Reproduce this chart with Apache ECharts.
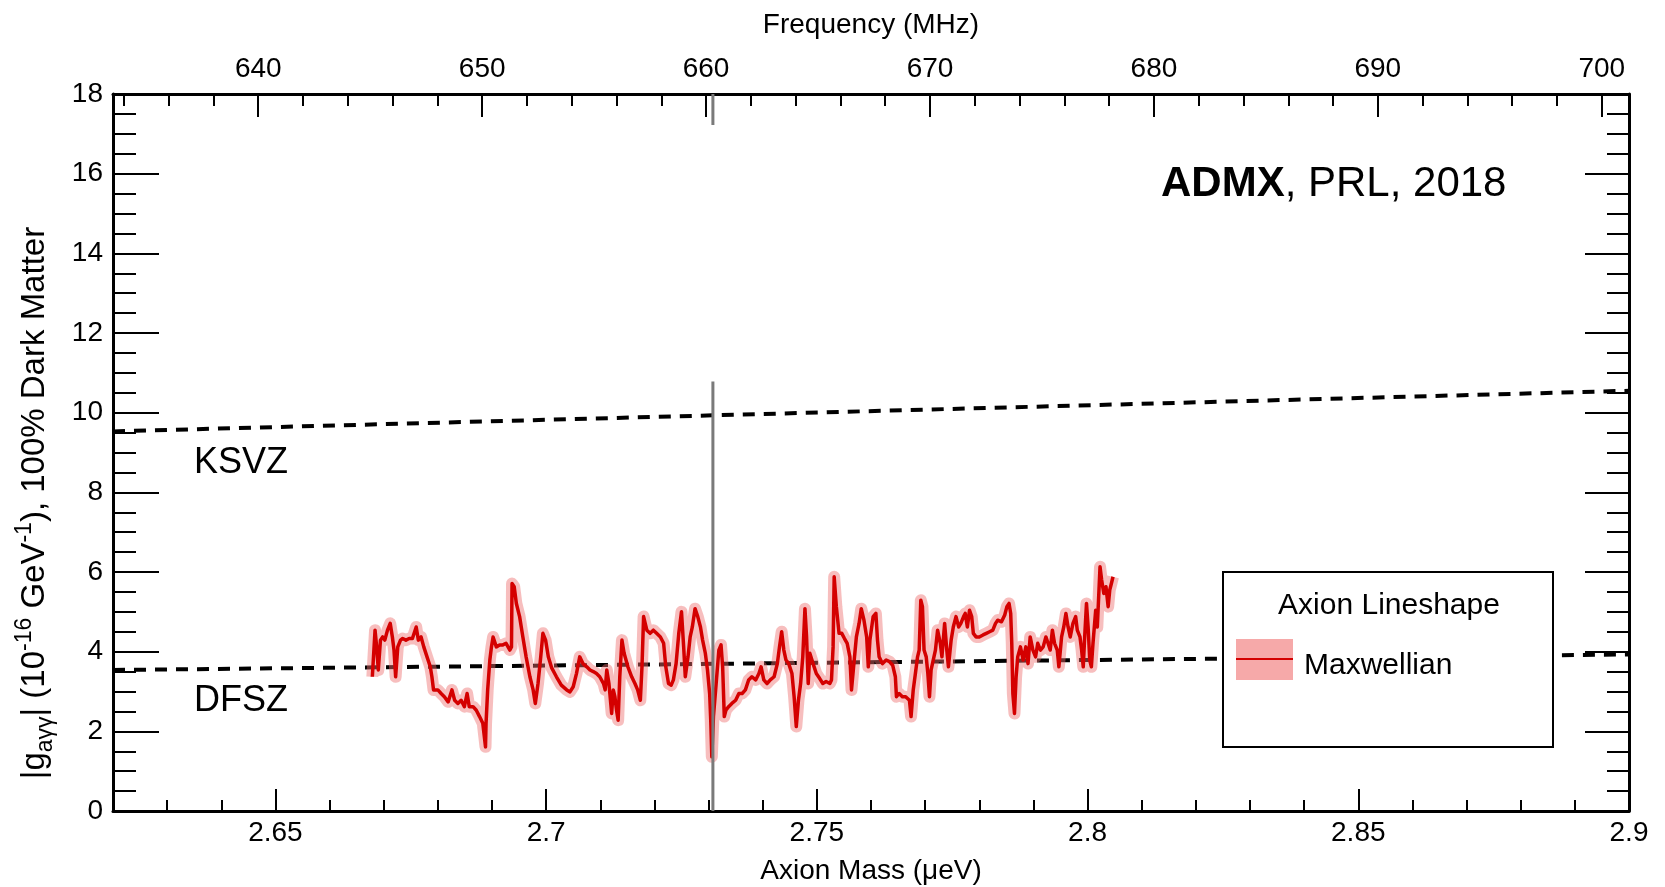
<!DOCTYPE html>
<html>
<head>
<meta charset="utf-8">
<script src="https://cdn.jsdelivr.net/npm/echarts@6/dist/echarts.min.js"></script>
<style>
  html, body { margin: 0; padding: 0; background: #fff; }
  #chart { width: 1665px; height: 887px; }
</style>
</head>
<body>
<div id="chart"></div>
<script>
// axis ranges and ticks
var massMin = 2.62, massMax = 2.9;
var MHZ_PER_UEV = 241.799;
var massTicks = [2.65, 2.7, 2.75, 2.8, 2.85, 2.9];
var massMinorTicks = [2.63, 2.64, 2.66, 2.67, 2.68, 2.69, 2.71, 2.72, 2.73, 2.74, 2.76, 2.77, 2.78, 2.79,
  2.81, 2.82, 2.83, 2.84, 2.86, 2.87, 2.88, 2.89];
var freqTicks = [640, 650, 660, 670, 680, 690, 700];
var freqMinorTicks = [634, 636, 638, 642, 644, 646, 648, 652, 654, 656, 658, 662, 664, 666, 668,
  672, 674, 676, 678, 682, 684, 686, 688, 692, 694, 696, 698];

// model lines (endpoints)
var ksvzLine = [[2.62, 9.53], [2.9, 10.55]];
var dfszLine = [[2.62, 3.54], [2.9, 3.93]];

// vertical marker (gray)
var markerMass = 2.7308;
var markerLow = [[markerMass, 0], [markerMass, 10.78]];
var markerHigh = [[markerMass, 17.22], [markerMass, 18]];

// Maxwellian exclusion limit, 100% dark matter
var massValues = [
  2.6679, 2.6684, 2.6687, 2.6690, 2.6694, 2.6698, 2.6702, 2.6707, 2.6712, 2.6716, 2.6719, 2.6722, 2.6726,
  2.6731, 2.6735, 2.6741, 2.6747, 2.6753, 2.6760, 2.6764, 2.6769, 2.6774, 2.6780, 2.6786, 2.6789, 2.6792,
  2.6800, 2.6806, 2.6812, 2.6819, 2.6826, 2.6831, 2.6837, 2.6843, 2.6849, 2.6854, 2.6858, 2.6865, 2.6871,
  2.6877, 2.6883, 2.6888, 2.6889, 2.6892, 2.6896, 2.6899, 2.6902, 2.6908, 2.6914, 2.6920, 2.6926, 2.6933,
  2.6936, 2.6937, 2.6941, 2.6945, 2.6951, 2.6957, 2.6963, 2.6970, 2.6976, 2.6980, 2.6985, 2.6990, 2.6994,
  2.6999, 2.7004, 2.7010, 2.7019, 2.7028, 2.7038, 2.7044, 2.7050, 2.7056, 2.7062, 2.7068, 2.7075, 2.7081,
  2.7087, 2.7093, 2.7099, 2.7106, 2.7109, 2.7112, 2.7116, 2.7121, 2.7124, 2.7127, 2.7130, 2.7133, 2.7136,
  2.7140, 2.7144, 2.7151, 2.7158, 2.7164, 2.7169, 2.7174, 2.7177, 2.7180, 2.7186, 2.7192, 2.7198, 2.7204,
  2.7211, 2.7217, 2.7221, 2.7226, 2.7231, 2.7235, 2.7240, 2.7245, 2.7250, 2.7254, 2.7257, 2.7262, 2.7266,
  2.7270, 2.7275, 2.7280, 2.7285, 2.7289, 2.7294, 2.7298, 2.7302, 2.7304, 2.7306, 2.7309, 2.7314, 2.7319,
  2.7323, 2.7326, 2.7329, 2.7332, 2.7337, 2.7343, 2.7350, 2.7356, 2.7362, 2.7368, 2.7374, 2.7380, 2.7387,
  2.7393, 2.7397, 2.7402, 2.7408, 2.7414, 2.7421, 2.7427, 2.7431, 2.7435, 2.7439, 2.7443, 2.7448, 2.7454,
  2.7458, 2.7462, 2.7466, 2.7470, 2.7474, 2.7478, 2.7481, 2.7484, 2.7487, 2.7493, 2.7499, 2.7505, 2.7511,
  2.7517, 2.7524, 2.7527, 2.7530, 2.7532, 2.7536, 2.7541, 2.7546, 2.7551, 2.7556, 2.7561, 2.7564, 2.7569,
  2.7573, 2.7578, 2.7582, 2.7587, 2.7592, 2.7595, 2.7598, 2.7604, 2.7609, 2.7612, 2.7615, 2.7621, 2.7628,
  2.7634, 2.7640, 2.7645, 2.7647, 2.7652, 2.7658, 2.7664, 2.7671, 2.7674, 2.7678, 2.7682, 2.7686, 2.7689,
  2.7692, 2.7695, 2.7698, 2.7702, 2.7705, 2.7708, 2.7711, 2.7719, 2.7723, 2.7728, 2.7731, 2.7736, 2.7740,
  2.7743, 2.7748, 2.7752, 2.7757, 2.7762, 2.7766, 2.7771, 2.7774, 2.7778, 2.7782, 2.7786, 2.7789, 2.7794,
  2.7800, 2.7807, 2.7813, 2.7819, 2.7825, 2.7830, 2.7834, 2.7841, 2.7847, 2.7851, 2.7855, 2.7858, 2.7860,
  2.7862, 2.7865, 2.7868, 2.7871, 2.7876, 2.7881, 2.7886, 2.7890, 2.7894, 2.7899, 2.7904, 2.7908, 2.7913,
  2.7918, 2.7923, 2.7927, 2.7931, 2.7935, 2.7939, 2.7944, 2.7947, 2.7952, 2.7956, 2.7960, 2.7964, 2.7968,
  2.7973, 2.7978, 2.7981, 2.7986, 2.7989, 2.7992, 2.7995, 2.7998, 2.8001, 2.8004, 2.8007, 2.8010, 2.8015,
  2.8018, 2.8023, 2.8026, 2.8030, 2.8034, 2.8038, 2.8041, 2.8044, 2.8047
];
var gLimitValues = [
  3.37, 4.54, 4.12, 3.54, 4.29, 4.37, 4.29, 4.54, 4.71, 4.37, 4.04, 3.37, 4.12,
  4.29, 4.33, 4.29, 4.33, 4.33, 4.62, 4.29, 4.37, 4.12, 3.87, 3.62, 3.37, 3.04,
  3.04, 2.95, 2.87, 2.74, 3.04, 2.78, 2.70, 2.78, 2.62, 2.95, 2.62, 2.62, 2.53,
  2.37, 2.20, 1.61, 2.20, 3.04, 3.79, 4.12, 4.37, 4.12, 4.17, 4.17, 4.21, 4.04,
  4.12, 5.71, 5.63, 5.21, 4.88, 4.37, 3.87, 3.37, 3.04, 2.70, 3.20, 3.87, 4.46,
  4.29, 3.87, 3.60, 3.37, 3.16, 3.04, 2.99, 3.12, 3.45, 3.87, 3.70, 3.62, 3.54,
  3.50, 3.45, 3.37, 3.20, 3.04, 3.54, 3.20, 2.45, 3.04, 2.87, 2.53, 2.28, 3.37,
  4.29, 3.96, 3.62, 3.37, 3.20, 3.04, 2.78, 3.62, 4.88, 4.54, 4.46, 4.54, 4.46,
  4.37, 4.21, 3.62, 3.20, 3.16, 3.29, 3.70, 4.46, 5.00, 4.12, 3.37, 3.87, 4.37,
  4.62, 5.08, 4.88, 4.62, 4.29, 3.96, 3.54, 2.95, 2.28, 1.36, 2.37, 3.20, 4.04,
  4.17, 3.62, 2.37, 2.53, 2.62, 2.70, 2.78, 2.95, 2.95, 3.04, 3.29, 3.37, 3.29,
  3.45, 3.62, 3.29, 3.20, 3.29, 3.37, 3.70, 4.12, 4.50, 4.04, 3.79, 3.70, 3.45,
  2.87, 2.12, 2.78, 3.20, 3.87, 5.08, 4.37, 3.20, 3.96, 3.70, 3.45, 3.33, 3.20,
  3.25, 3.20, 3.29, 4.12, 5.88, 5.13, 4.46, 4.46, 4.33, 4.21, 3.87, 3.04, 3.79,
  4.37, 4.71, 5.08, 4.79, 4.37, 3.62, 4.29, 4.88, 4.96, 4.29, 3.87, 3.70, 3.79,
  3.75, 3.66, 3.37, 2.87, 2.95, 2.87, 2.87, 2.78, 2.37, 3.04, 3.45, 3.87, 4.04,
  5.29, 5.13, 4.04, 3.87, 3.45, 2.87, 3.54, 4.04, 4.54, 4.21, 3.87, 4.71, 4.04,
  3.62, 4.29, 4.62, 4.88, 4.62, 4.71, 4.88, 4.96, 4.62, 5.04, 4.88, 4.46, 4.37,
  4.37, 4.42, 4.46, 4.50, 4.54, 4.71, 4.79, 4.75, 4.92, 5.13, 5.21, 4.96, 4.21,
  2.95, 2.45, 3.37, 3.87, 4.12, 3.79, 4.12, 3.70, 4.37, 4.04, 3.87, 4.21, 4.04,
  4.12, 4.37, 4.21, 4.04, 4.54, 4.21, 4.04, 3.62, 4.37, 4.62, 4.96, 4.62, 4.37,
  4.71, 4.88, 4.54, 4.37, 4.04, 3.62, 4.46, 5.21, 4.62, 3.79, 3.62, 4.21, 5.04,
  4.62, 6.13, 5.80, 5.46, 5.63, 5.13, 5.55, 5.71, 5.88
];

var limitData = massValues.map(function (m, i) { return [m, gLimitValues[i]]; });

var FONT = 'Liberation Sans, Arial, Helvetica, sans-serif';
var chart = echarts.init(document.getElementById('chart'));

// extra axis used only for the short (minor) ticks
function minorAxis(pos, min, max, ticks, len) {
  return {
    type: 'value', position: pos, min: min, max: max,
    axisLine: { show: false, onZero: false },
    axisTick: { show: true, inside: true, length: len, customValues: ticks, lineStyle: { color: '#000', width: 2 } },
    axisLabel: { show: false },
    splitLine: { show: false }
  };
}

var option = {
  animation: false,
  backgroundColor: '#fff',
  textStyle: { fontFamily: FONT },
  grid: { left: 113, right: 36, top: 94, bottom: 76, outerBoundsMode: 'none' },
  xAxis: [
    {
      type: 'value', position: 'bottom', min: massMin, max: massMax,
      name: 'Axion Mass (μeV)', nameLocation: 'middle', nameGap: 46,
      nameTextStyle: { fontSize: 28, color: '#000', fontFamily: FONT },
      axisLine: { show: true, onZero: false, lineStyle: { color: '#000', width: 3 } },
      axisTick: { show: true, inside: true, length: 22, customValues: massTicks, lineStyle: { color: '#000', width: 2 } },
      axisLabel: { customValues: massTicks, fontSize: 28, color: '#000', margin: 8, fontFamily: FONT },
      splitLine: { show: false }
    },
    minorAxis('bottom', massMin, massMax, massMinorTicks, 11),
    {
      type: 'value', position: 'top', min: massMin * MHZ_PER_UEV, max: massMax * MHZ_PER_UEV,
      name: 'Frequency (MHz)', nameLocation: 'middle', nameGap: 55,
      nameTextStyle: { fontSize: 28, color: '#000', fontFamily: FONT },
      axisLine: { show: true, onZero: false, lineStyle: { color: '#000', width: 3 } },
      axisTick: { show: true, inside: true, length: 23, customValues: freqTicks, lineStyle: { color: '#000', width: 2 } },
      axisLabel: { customValues: freqTicks, fontSize: 28, color: '#000', margin: 11, fontFamily: FONT },
      splitLine: { show: false }
    },
    minorAxis('top', massMin * MHZ_PER_UEV, massMax * MHZ_PER_UEV, freqMinorTicks, 12)
  ],
  yAxis: [
    {
      type: 'value', position: 'left', min: 0, max: 18, interval: 2,
      axisLine: { show: true, onZero: false, lineStyle: { color: '#000', width: 3 } },
      axisTick: { show: true, inside: true, length: 46, lineStyle: { color: '#000', width: 2 } },
      minorTick: { show: true, splitNumber: 4, length: 23, lineStyle: { color: '#000', width: 2 } },
      axisLabel: { fontSize: 28, color: '#000', margin: 10, fontFamily: FONT },
      splitLine: { show: false }
    },
    {
      type: 'value', position: 'right', min: 0, max: 18, interval: 2,
      axisLine: { show: true, onZero: false, lineStyle: { color: '#000', width: 3 } },
      axisTick: { show: true, inside: true, length: 44, lineStyle: { color: '#000', width: 2 } },
      minorTick: { show: true, splitNumber: 4, length: 22, lineStyle: { color: '#000', width: 2 } },
      axisLabel: { show: false },
      splitLine: { show: false }
    }
  ],
  series: [
    {
      name: 'KSVZ', type: 'line', data: ksvzLine, symbol: 'none', silent: true, z: 2,
      lineStyle: { color: '#000', width: 4, type: [12, 9] }
    },
    {
      name: 'DFSZ', type: 'line', data: dfszLine, symbol: 'none', silent: true, z: 2,
      lineStyle: { color: '#000', width: 4, type: [12, 9] }
    },
    {
      name: 'Maxwellian band', type: 'line', data: limitData, symbol: 'none', silent: true, z: 3,
      lineStyle: { color: 'rgba(238, 110, 110, 0.45)', width: 12, join: 'round' }
    },
    {
      name: 'Maxwellian', type: 'line', data: limitData, symbol: 'none', silent: true, z: 4,
      lineStyle: { color: '#d40000', width: 3.5, join: 'round' }
    },
    {
      type: 'line', data: markerLow, symbol: 'none', silent: true, z: 5,
      lineStyle: { color: '#7a7a7a', width: 3 }
    },
    {
      type: 'line', data: markerHigh, symbol: 'none', silent: true, z: 5,
      lineStyle: { color: '#7a7a7a', width: 3 }
    }
  ],
  graphic: [
    {
      type: 'text', x: 35, y: 503, rotation: Math.PI / 2,
      style: {
        text: '{n||g}{s|aγγ}{n|| (10}{p|-16}{n| GeV}{p|-1}{n|), 100% Dark Matter}',
        align: 'center', verticalAlign: 'middle', fill: '#000',
        rich: {
          n: { fontSize: 33, fontFamily: FONT, lineHeight: 44, fill: '#000' },
          s: { fontSize: 23, fontFamily: FONT, lineHeight: 23, verticalAlign: 'bottom', fill: '#000' },
          p: { fontSize: 23, fontFamily: FONT, lineHeight: 23, verticalAlign: 'top', fill: '#000' }
        }
      }
    },
    {
      type: 'text', x: 194, y: 463,
      style: { text: 'KSVZ', fontSize: 36, fontFamily: FONT, fill: '#000', verticalAlign: 'middle' }
    },
    {
      type: 'text', x: 194, y: 701,
      style: { text: 'DFSZ', fontSize: 36, fontFamily: FONT, fill: '#000', verticalAlign: 'middle' }
    },
    {
      type: 'text', x: 1161, y: 184,
      style: {
        text: '{b|ADMX}{r|, PRL, 2018}', verticalAlign: 'middle',
        rich: {
          b: { fontSize: 42, fontWeight: 'bold', fontFamily: FONT, fill: '#000' },
          r: { fontSize: 42, fontFamily: FONT, fill: '#000' }
        }
      }
    },
    {
      type: 'rect', shape: { x: 1223, y: 572, width: 330, height: 175 },
      style: { fill: '#fff', stroke: '#000', lineWidth: 2 }, z: 10
    },
    {
      type: 'text', x: 1389, y: 606, z: 11,
      style: { text: 'Axion Lineshape', fontSize: 30, fontFamily: FONT, fill: '#000', align: 'center', verticalAlign: 'middle' }
    },
    {
      type: 'rect', shape: { x: 1236, y: 639, width: 57, height: 41 }, z: 11,
      style: { fill: '#f6a9a9' }
    },
    {
      type: 'line', shape: { x1: 1236, y1: 659, x2: 1293, y2: 659 }, z: 12,
      style: { stroke: '#d40000', lineWidth: 2 }
    },
    {
      type: 'text', x: 1304, y: 666, z: 11,
      style: { text: 'Maxwellian', fontSize: 30, fontFamily: FONT, fill: '#000', verticalAlign: 'middle' }
    }
  ]
};

if (option) {
  chart.setOption(option);
}
</script>
</body>
</html>
